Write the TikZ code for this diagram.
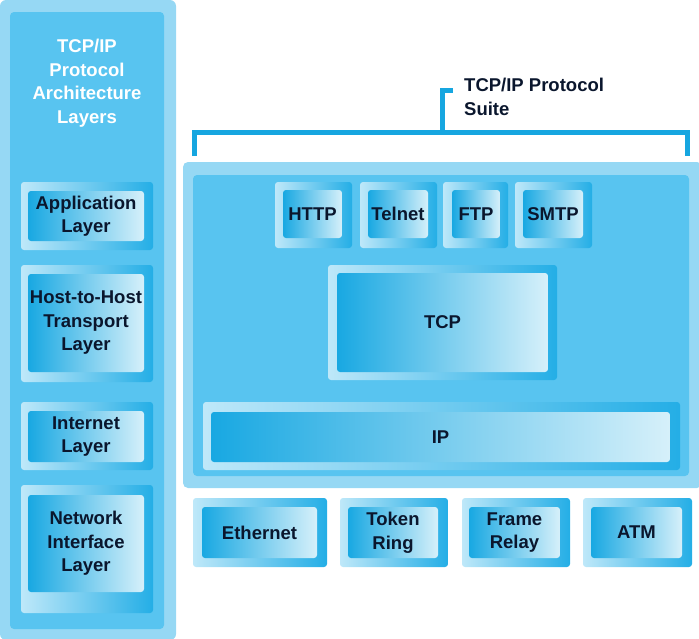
\documentclass[tikz,border=0pt]{standalone}
\usepackage{fontspec}
\setmainfont{Liberation Sans}
\usepackage{tikz}
\usetikzlibrary{positioning}
\definecolor{rimblue}{RGB}{150,216,244}
\definecolor{panelblue}{RGB}{88,196,240}
\definecolor{boxdark}{RGB}{24,168,226}
\definecolor{boxlight}{RGB}{214,240,250}
\definecolor{frmlight}{RGB}{190,232,249}
\definecolor{frmdark}{RGB}{36,174,230}
\definecolor{brkblue}{RGB}{22,166,224}
\definecolor{navy}{RGB}{10,22,45}

\begin{document}
\begin{tikzpicture}[
    x=1pt, y=-1pt,
    every node/.style={font=\fontsize{18.5}{23.5}\selectfont\bfseries, text=navy},
    frame/.style={rectangle, rounded corners=3pt, inner sep=0pt,
                  left color=frmlight, right color=frmdark},
    layer/.style={rectangle, rounded corners=3pt, inner sep=0pt, align=center,
                  left color=boxdark, right color=boxlight},
    bracket/.style={draw=brkblue, line width=5pt}
]
\useasboundingbox (0,0) rectangle (699,638);

% Panels
\fill[rimblue, rounded corners=6pt] (0,0) rectangle (176,640);
\fill[panelblue, rounded corners=4pt] (10,12) rectangle (164,629);
\fill[rimblue, rounded corners=5pt] (183,162) rectangle (702,488);
\fill[panelblue, rounded corners=4pt] (193,175) rectangle (689,476);

\node[text=white, align=center] (arch) at (87,83) {TCP/IP\\Protocol\\Architecture\\Layers};

% Architecture layers
\node[frame, minimum width=132pt, minimum height=68pt]  (appfr)  at (87,216) {};
\node[layer, minimum width=116pt, minimum height=50pt]  (app)    at (86,216) {Application\\Layer};
\node[frame, minimum width=132pt, minimum height=117pt] (hostfr) at (87,323.5) {};
\node[layer, minimum width=116pt, minimum height=98pt]  (host)   at (86,323) {Host-to-Host\\Transport\\Layer};
\node[frame, minimum width=132pt, minimum height=68pt]  (inetfr) at (87,436) {};
\node[layer, minimum width=116pt, minimum height=51pt]  (inet)   at (86,436.5) {Internet\\Layer};
\node[frame, minimum width=132pt, minimum height=128pt] (niffr)  at (87,549) {};
\node[layer, minimum width=116pt, minimum height=97pt]  (nif)    at (86,543.5) {Network\\Interface\\Layer};

% Suite bracket
\coordinate (bl)  at (194.5,156);
\coordinate (br)  at (687.5,156);
\coordinate (bm)  at (442,132);
\coordinate (top) at (453,90);
\draw[bracket] (bl) |- (br |- bm) -- (br);
\draw[bracket] (bm) |- (top);
\node[anchor=north west, inner sep=0pt, align=left] (suite) at (464,78) {TCP/IP Protocol\\Suite};

% Application protocols
\node[frame, minimum width=77pt, minimum height=66pt] (httpfr)   at (313.5,215) {};
\node[layer, minimum width=59pt, minimum height=48pt] (http)     at (312.5,214) {HTTP};
\node[frame, minimum width=77pt, minimum height=66pt] (telnetfr) at (398.5,215) {};
\node[layer, minimum width=60pt, minimum height=48pt] (telnet)   at (398,214) {Telnet};
\node[frame, minimum width=65pt, minimum height=66pt] (ftpfr)    at (475.5,215) {};
\node[layer, minimum width=48pt, minimum height=48pt] (ftp)      at (476,214) {FTP};
\node[frame, minimum width=77pt, minimum height=66pt] (smtpfr)   at (553.5,215) {};
\node[layer, minimum width=60pt, minimum height=48pt] (smtp)     at (553,214) {SMTP};

% Transport and internet
\node[frame, minimum width=229pt, minimum height=115pt] (tcpfr) at (442.5,322.5) {};
\node[layer, minimum width=211pt, minimum height=99pt]  (tcp)   at (442.5,322.5) {TCP};
\node[frame, minimum width=477pt, minimum height=68pt]  (ipfr)  at (441.5,436) {};
\node[layer, minimum width=459pt, minimum height=50pt]  (ip)    at (440.5,437) {IP};

% Network interfaces
\node[frame, minimum width=134pt, minimum height=69pt] (ethfr)   at (260,532.5) {};
\node[layer, minimum width=115pt, minimum height=51pt] (eth)     at (259.5,532.5) {Ethernet};
\node[frame, minimum width=108pt, minimum height=69pt] (tokenfr) at (394,532.5) {};
\node[layer, minimum width=90pt, minimum height=51pt]  (token)   at (393,532.5) {Token\\Ring};
\node[frame, minimum width=108pt, minimum height=69pt] (relayfr) at (516,532.5) {};
\node[layer, minimum width=91pt, minimum height=51pt]  (relay)   at (514.5,532.5) {Frame\\Relay};
\node[frame, minimum width=109pt, minimum height=69pt] (atmfr)   at (637.5,532.5) {};
\node[layer, minimum width=91pt, minimum height=51pt]  (atm)     at (636.5,532.5) {ATM};

\end{tikzpicture}
\end{document}
